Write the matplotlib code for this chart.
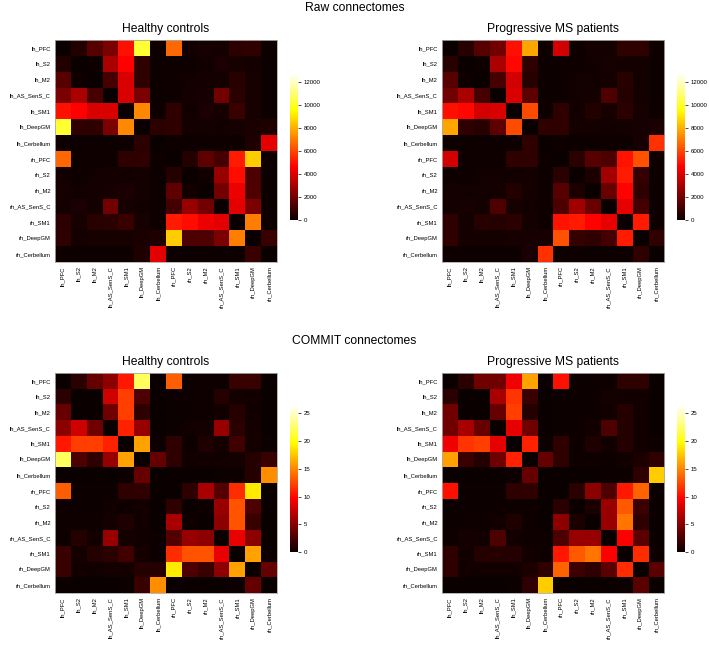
import numpy as np
import matplotlib
matplotlib.use("Agg")
import matplotlib.pyplot as plt

plt.rcParams["font.family"] = ["Liberation Sans", "DejaVu Sans"]

REGIONS = [
  "lh_PFC", "lh_S2", "lh_M2", "lh_AS_SenS_C", "lh_SM1", "lh_DeepGM", "lh_Cerbellum",
  "rh_PFC", "rh_S2", "rh_M2", "rh_AS_SenS_C", "rh_SM1", "rh_DeepGM", "rh_Cerbellum",
]

# upper triangles (row i holds values for columns i+1 .. 13)
RAW_HC = [
  [450, 1450, 2150, 4950, 10150, 100, 6650, 150, 250, 200, 650, 700, 100],
  [100, 3050, 4650, 700, 50, 100, 100, 150, 300, 250, 200, 50],
  [1150, 3950, 700, 50, 100, 150, 200, 200, 550, 250, 50],
  [3950, 2150, 50, 100, 200, 250, 2000, 600, 250, 50],
  [7250, 100, 700, 150, 300, 250, 900, 250, 100],
  [650, 700, 200, 200, 150, 250, 300, 400],
  [100, 50, 100, 100, 100, 400, 4150],
  [500, 1600, 1100, 5150, 8550, 100],
  [150, 2700, 4900, 1250, 50],
  [2000, 4300, 1300, 50],
  [4150, 2150, 50],
  [7050, 100],
  [900],
]

RAW_MS = [
  [550, 1450, 2000, 4950, 7800, 100, 3800, 100, 200, 200, 700, 700, 100],
  [100, 3050, 4800, 700, 50, 100, 100, 150, 250, 200, 200, 50],
  [1150, 3800, 550, 50, 100, 150, 150, 200, 550, 200, 50],
  [3950, 1600, 50, 100, 150, 200, 1300, 500, 200, 50],
  [6100, 100, 700, 150, 450, 250, 600, 250, 100],
  [700, 700, 200, 200, 150, 200, 250, 300],
  [100, 50, 100, 100, 100, 250, 5600],
  [600, 1450, 1250, 5000, 6200, 100],
  [350, 2900, 5150, 800, 50],
  [1800, 4700, 700, 50],
  [4200, 1100, 50],
  [5150, 100],
  [700],
]

COMMIT_HC = [
  [1.3, 3.7, 5.2, 10.6, 22.2, 0.1, 13.4, 0.2, 0.3, 0.3, 1.9, 1.9, 0.1],
  [0.1, 7.8, 12.2, 2.6, 0.1, 0.2, 0.2, 0.3, 1.1, 0.5, 0.4, 0.1],
  [4.1, 12.2, 1.5, 0.1, 0.2, 0.2, 0.3, 0.4, 1.1, 0.4, 0.1],
  [11.0, 5.6, 0.1, 0.2, 0.4, 0.5, 5.6, 1.3, 0.5, 0.1],
  [16.1, 0.2, 1.5, 0.3, 0.9, 0.5, 2.2, 0.5, 0.2],
  [3.7, 1.5, 0.4, 0.4, 0.4, 0.5, 1.1, 1.9],
  [0.1, 0.1, 0.1, 0.2, 0.2, 1.1, 15.3],
  [1.5, 6.3, 3.0, 11.4, 19.0, 0.1],
  [0.3, 5.6, 13.0, 2.6, 0.1],
  [5.2, 13.0, 1.9, 0.1],
  [8.9, 5.2, 0.1],
  [16.1, 0.2],
  [3.7],
]

COMMIT_MS = [
  [1.3, 4.1, 4.1, 9.2, 16.1, 0.1, 10.3, 0.2, 0.2, 0.3, 1.5, 1.5, 0.1],
  [0.1, 6.3, 11.8, 1.9, 0.1, 0.2, 0.2, 0.3, 0.5, 0.4, 0.4, 0.1],
  [3.7, 12.2, 1.1, 0.1, 0.2, 0.2, 0.3, 0.4, 1.1, 0.4, 0.1],
  [8.7, 4.1, 0.1, 0.2, 0.3, 0.4, 2.6, 1.1, 0.4, 0.1],
  [11.0, 0.2, 1.5, 0.3, 0.9, 0.4, 1.1, 0.4, 0.2],
  [3.7, 1.5, 0.3, 0.3, 0.3, 0.4, 0.8, 1.5],
  [0.1, 0.1, 0.1, 0.2, 0.2, 1.5, 17.8],
  [1.3, 5.2, 2.6, 10.6, 13.6, 0.1],
  [0.7, 5.6, 13.2, 2.0, 0.1],
  [5.6, 14.3, 1.5, 0.1],
  [9.7, 3.3, 0.1],
  [11.4, 0.2],
  [3.3],
]

RAW_TICKS = [0, 2000, 4000, 6000, 8000, 10000, 12000]
COMMIT_TICKS = [0, 5, 10, 15, 20, 25]
RAW_VMAX = 12800
COMMIT_VMAX = 26.5

W, H = 709, 650


def full_matrix(upper):
  n = len(upper) + 1
  mat = np.zeros((n, n))
  for i, row in enumerate(upper):
    for k, v in enumerate(row):
      j = i + 1 + k
      mat[i, j] = v
      mat[j, i] = v
  return mat


def px_rect(x0, y0, x1, y1):
  return [x0 / W, 1 - y1 / H, (x1 - x0) / W, (y1 - y0) / H]


def draw_panel(fig, upper, rect, cbar_rect, vmax, ticks, title):
  ax = fig.add_axes(px_rect(*rect))
  im = ax.imshow(full_matrix(upper), cmap="hot", vmin=0, vmax=vmax,
          interpolation="nearest", aspect="auto")
  ax.set_xticks(range(len(REGIONS)))
  ax.set_yticks(range(len(REGIONS)))
  ax.set_xticklabels(REGIONS, rotation=90, fontsize=4.2)
  ax.set_yticklabels(REGIONS, fontsize=4.2)
  ax.tick_params(length=0, pad=3)
  for s in ax.spines.values():
    s.set_color("#aaaaaa")
    s.set_linewidth(0.6)
  ax.set_title(title, fontsize=8.7, pad=6)

  cax = fig.add_axes(px_rect(*cbar_rect))
  cb = fig.colorbar(im, cax=cax, ticks=ticks)
  cb.outline.set_visible(False)
  cax.tick_params(labelsize=4.4, length=2, width=0.5, pad=2)
  return ax


def main() -> None:
  fig = plt.figure(figsize=(W / 100, H / 100), dpi=100)

  draw_panel(fig, RAW_HC, (55, 40, 277, 262), (290, 73, 298, 220),
        RAW_VMAX, RAW_TICKS, "Healthy controls")
  draw_panel(fig, RAW_MS, (442, 40, 664, 262), (677, 73, 685, 220),
        RAW_VMAX, RAW_TICKS, "Progressive MS patients")
  draw_panel(fig, COMMIT_HC, (55, 373, 277, 593), (290, 405, 298, 552),
        COMMIT_VMAX, COMMIT_TICKS, "Healthy controls")
  draw_panel(fig, COMMIT_MS, (442, 373, 664, 593), (677, 405, 685, 552),
        COMMIT_VMAX, COMMIT_TICKS, "Progressive MS patients")

  fig.text(0.5, 1 - 8 / H, "Raw connectomes", ha="center", va="center", fontsize=8.7)
  fig.text(0.5, 1 - 341 / H, "COMMIT connectomes", ha="center", va="center", fontsize=8.7)

  fig.savefig("out.png", dpi=100)
  plt.close(fig)


if __name__ == "__main__":
  main()
